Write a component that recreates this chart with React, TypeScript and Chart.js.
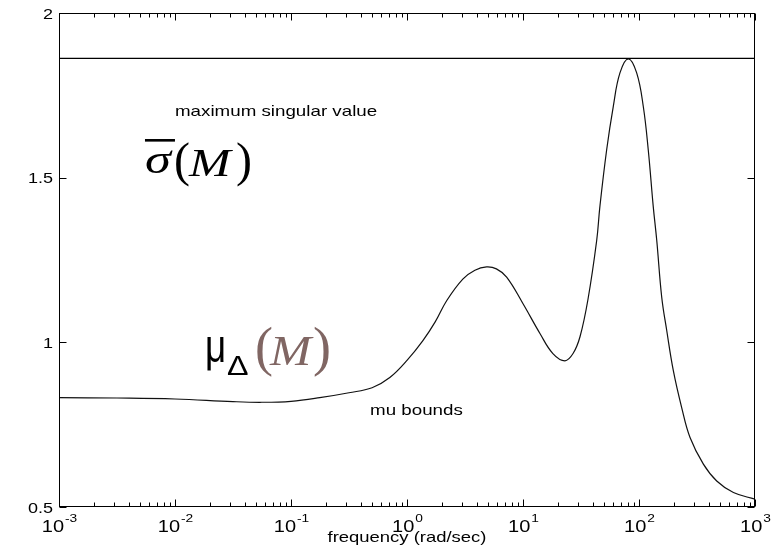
import React, { useEffect, useRef } from "react";
import { Chart, registerables } from "chart.js";

Chart.register(...registerables);

// ---- data ----
const frequency = [
  0.001, 0.00316, 0.01, 0.0316, 0.056, 0.1, 0.177, 0.316, 0.5, 0.711,
  1.0, 1.371, 1.75, 2.203, 3.027, 3.85, 4.853, 5.9, 7.228, 9.977,
  14.0, 18.1, 23.0, 27.0, 31.0, 36.3, 43.2, 46.0, 52.6, 60.0,
  68.5, 80.9, 95.5, 108.9, 120.2, 132.7, 142.2, 157.0, 173.4, 197.7,
  233.3, 275.4, 358.9, 467.7, 651.6, 1000,
];
const muBounds = [
  0.832, 0.831, 0.828, 0.82, 0.818, 0.821, 0.832, 0.847, 0.862, 0.893,
  0.945, 1.005, 1.062, 1.127, 1.192, 1.219, 1.229, 1.223, 1.198, 1.118,
  1.027, 0.966, 0.944, 0.966, 1.017, 1.13, 1.31, 1.412, 1.584, 1.716,
  1.818, 1.861, 1.818, 1.716, 1.584, 1.412, 1.31, 1.137, 1.036, 0.914,
  0.802, 0.711, 0.63, 0.579, 0.544, 0.524,
];
const maxSingularValue = 1.862;
const xRange = [0.001, 1000];
const yRange = [0.5, 2];
const yTicks = [0.5, 1, 1.5, 2];
const yTickLabels = ["0.5", "1", "1.5", "2"];
const xDecades = [0.001, 0.01, 0.1, 1, 10, 100, 1000];
const xTickExponents = ["-3", "-2", "-1", "0", "1", "2", "3"];
const xTitle = "frequency (rad/sec)";
const labelMaxSV = "maximum singular value";
const labelMu = "mu bounds";

const SANS = "'Liberation Sans', Arial, sans-serif";
const SERIF = "'Liberation Serif', 'Times New Roman', serif";

function drawText(
  ctx: CanvasRenderingContext2D,
  s: string,
  x: number,
  y: number,
  font: string,
  align: "left" | "center" | "right" = "left",
  sx: number = 1.24,
  color: string = "#000"
) {
  ctx.save();
  ctx.font = font;
  ctx.fillStyle = color;
  ctx.textBaseline = "alphabetic";
  ctx.textAlign = "left";
  const w = ctx.measureText(s).width * sx;
  const x0 = align === "center" ? x - w / 2 : align === "right" ? x - w : x;
  ctx.translate(x0, y);
  ctx.scale(sx, 1);
  ctx.fillText(s, 0, 0);
  ctx.restore();
  return w;
}

const framePlugin = {
  id: "matlabFrame",
  afterDraw(chart: any) {
    const ctx: CanvasRenderingContext2D = chart.ctx;
    const { left, right, top, bottom } = chart.chartArea;
    const xs = chart.scales.x;
    const ys = chart.scales.y;
    const L = Math.round(left) + 0.5;
    const R = Math.round(right) - 0.5;
    const T = Math.round(top) + 0.5;
    const B = Math.round(bottom) - 0.5;

    ctx.save();
    ctx.strokeStyle = "#000";
    ctx.lineWidth = 1;
    ctx.strokeRect(L, T, R - L, B - T);

    // x ticks (major + minor), bottom and top, pointing inward
    ctx.beginPath();
    for (let d = 0; d < xDecades.length; d++) {
      const dec = xDecades[d];
      const px = Math.round(xs.getPixelForValue(dec)) + 0.5;
      ctx.moveTo(px, B);
      ctx.lineTo(px, B - 7);
      ctx.moveTo(px, T);
      ctx.lineTo(px, T + 7);
      if (d < xDecades.length - 1) {
        for (let m = 2; m <= 9; m++) {
          const mx = Math.round(xs.getPixelForValue(dec * m)) + 0.5;
          ctx.moveTo(mx, B);
          ctx.lineTo(mx, B - 4);
          ctx.moveTo(mx, T);
          ctx.lineTo(mx, T + 4);
        }
      }
    }
    // y ticks left and right
    for (const v of yTicks) {
      const py = Math.round(ys.getPixelForValue(v)) + 0.5;
      ctx.moveTo(L, py);
      ctx.lineTo(L + 7, py);
      ctx.moveTo(R, py);
      ctx.lineTo(R - 7, py);
    }
    ctx.stroke();
    ctx.restore();

    // y tick labels
    yTicks.forEach((v, i) => {
      const py = ys.getPixelForValue(v);
      drawText(ctx, yTickLabels[i], left - 6, py + 5.5, `15px ${SANS}`, "right", 1.2);
    });

    // x tick labels 10^n
    xDecades.forEach((dec, i) => {
      const px = xs.getPixelForValue(dec);
      ctx.save();
      ctx.font = `16px ${SANS}`;
      const w1 = ctx.measureText("10").width * 1.25;
      ctx.font = `11px ${SANS}`;
      const w2 = ctx.measureText(xTickExponents[i]).width * 1.25;
      ctx.restore();
      const x0 = px - (w1 + w2) / 2;
      drawText(ctx, "10", x0, bottom + 25, `16px ${SANS}`, "left", 1.25);
      drawText(ctx, xTickExponents[i], x0 + w1 + 1, bottom + 15, `11px ${SANS}`, "left", 1.25);
    });

    // x axis title
    drawText(ctx, xTitle, (left + right) / 2, bottom + 35, `15px ${SANS}`, "center", 1.23);

    // annotations
    drawText(ctx, labelMaxSV, xs.getPixelForValue(0.01), ys.getPixelForValue(1.687), `15px ${SANS}`, "left", 1.25);
    drawText(ctx, labelMu, xs.getPixelForValue(0.48), ys.getPixelForValue(0.779), `15px ${SANS}`, "left", 1.25);

    // sigma-bar(M)
    {
      const x0 = xs.getPixelForValue(0.00551);
      const y0 = ys.getPixelForValue(1.505);
      const ws = drawText(ctx, "σ", x0, y0 - 3, `italic 42px ${SERIF}`, "left", 1.25);
      ctx.fillStyle = "#000";
      ctx.fillRect(x0, y0 - 37, Math.max(ws, 30), 2.6);
      drawText(ctx, "(", x0 + 29, y0, `48px ${SERIF}`, "left", 1.0);
      drawText(ctx, "M", x0 + 44, y0, `italic 41px ${SERIF}`, "left", 1.22);
      drawText(ctx, ")", x0 + 91, y0, `48px ${SERIF}`, "left", 1.0);
    }
    // mu_Delta(M)
    {
      const x0 = xs.getPixelForValue(0.01815);
      const y0 = ys.getPixelForValue(0.94);
      const brown = "#806663";
      drawText(ctx, "μ", x0, y0, `46px ${SANS}`, "left", 0.8);
      drawText(ctx, "Δ", x0 + 22, y0 + 13, `28px ${SANS}`, "left", 1.15);
      drawText(ctx, "(", x0 + 50, y0 + 3, `54px ${SERIF}`, "left", 1.0, brown);
      drawText(ctx, "M", x0 + 65, y0 + 3, `italic 42px ${SERIF}`, "left", 1.18, brown);
      drawText(ctx, ")", x0 + 108, y0 + 3, `54px ${SERIF}`, "left", 1.0, brown);
    }
  },
};

export default function App() {
  const ref = useRef<HTMLCanvasElement | null>(null);

  useEffect(() => {
    if (!ref.current) return;
    const curve = frequency.map((f, i) => ({ x: f, y: muBounds[i] }));
    const flat = xRange.map((f) => ({ x: f, y: maxSingularValue }));
    const chart = new Chart(ref.current, {
      type: "line",
      data: {
        datasets: [
          {
            label: "maximum singular value",
            data: flat,
            borderColor: "#000",
            borderWidth: 1.2,
            pointRadius: 0,
            fill: false,
          },
          {
            label: "mu bounds",
            data: curve,
            borderColor: "#111",
            borderWidth: 1.2,
            pointRadius: 0,
            fill: false,
            tension: 0.4,
          },
        ],
      },
      options: {
        responsive: false,
        animation: false,
        events: [],
        layout: { padding: { left: 59, right: 25, top: 13, bottom: 50 } },
        plugins: {
          legend: { display: false },
          tooltip: { enabled: false },
          title: { display: false },
        },
        scales: {
          x: { type: "logarithmic", min: xRange[0], max: xRange[1], display: false },
          y: { type: "linear", min: yRange[0], max: yRange[1], display: false },
        },
      },
      plugins: [framePlugin],
    });
    return () => chart.destroy();
  }, []);

  return (
    <canvas
      ref={ref}
      width={780}
      height={557}
      style={{ position: "absolute", left: 0, top: 0, width: 780, height: 557, background: "#fff" }}
    />
  );
}
